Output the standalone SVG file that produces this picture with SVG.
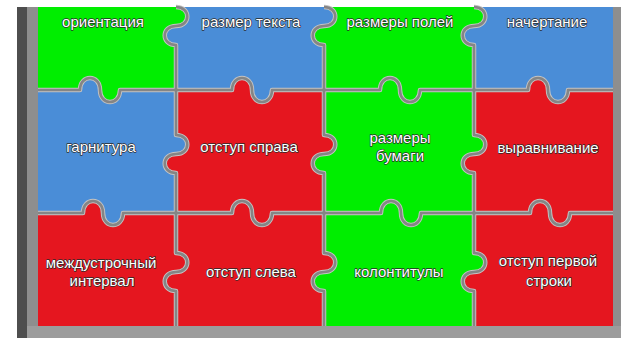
<svg xmlns="http://www.w3.org/2000/svg" xmlns:xlink="http://www.w3.org/1999/xlink" width="627" height="341" viewBox="0 0 627 341">
<style>
.green{fill:#00ee00}
.blue{fill:#4a8dd7}
.red{fill:#e5161f}
.lbl{font-family:"Liberation Sans",Arial,sans-serif;font-size:15px;fill:#ffffff;stroke:#2a2a2a;stroke-width:1.3px;paint-order:stroke;text-anchor:middle;stroke-linejoin:round}
.cutA{fill:none;stroke:#c4c4c4;stroke-width:4.5;stroke-linejoin:round}
.cutB{fill:none;stroke:#858585;stroke-width:2.6;stroke-linejoin:round}
</style>
<rect x="0" y="0" width="627" height="341" fill="#ffffff"/>
<g id="frame">
<rect x="17" y="7" width="604" height="331" fill="#8e8e8e"/>
<rect x="17" y="7" width="10" height="331" fill="#4e4e4e"/>
<rect x="27" y="326" width="594" height="12" fill="#9c9c9c"/>
</g>
<g id="piece-orientation" class="green">
<path id="p00" d="M38 7 H176 C191 7 191 26 176 26 C161 26 161 45 176 45 V90 H120 C120 106 100 106 100 90 C100 74 80 74 80 90 H38 Z"/>
<text class="lbl" x="103" y="27">ориентация</text>
</g>
<g id="piece-text-size" class="blue">
<path id="p01" d="M176 7 H324 C339 7 339 26 324 26 C309 26 309 45 324 45 V90 H272 C272 106 252 106 252 90 C252 74 232 74 232 90 H176 V45 C161 45 161 26 176 26 C191 26 191 7 176 7 Z"/>
<text class="lbl" x="251" y="27">размер текста</text>
</g>
<g id="piece-margins" class="green">
<path id="p02" d="M324 7 H474 C489 7 489 26 474 26 C459 26 459 45 474 45 V90 H420 C420 106 400 106 400 90 C400 74 380 74 380 90 H324 V45 C309 45 309 26 324 26 C339 26 339 7 324 7 Z"/>
<text class="lbl" x="400" y="27">размеры полей</text>
</g>
<g id="piece-style" class="blue">
<path id="p03" d="M474 7 H613 V90 H568 C568 106 548 106 548 90 C548 74 528 74 528 90 H474 V45 C459 45 459 26 474 26 C489 26 489 7 474 7 Z"/>
<text class="lbl" x="547" y="27">начертание</text>
</g>
<g id="piece-typeface" class="blue">
<path id="p10" d="M38 90 H80 C80 74 100 74 100 90 C100 106 120 106 120 90 H176 V135 C191 135 191 154 176 154 C161 154 161 173 176 173 V213 H123 C123 229 103 229 103 213 C103 197 83 197 83 213 H38 Z"/>
<text class="lbl" x="101" y="152">гарнитура</text>
</g>
<g id="piece-right-indent" class="red">
<path id="p11" d="M176 90 H232 C232 74 252 74 252 90 C252 106 272 106 272 90 H324 V135 C339 135 339 154 324 154 C309 154 309 173 324 173 V213 H272 C272 229 252 229 252 213 C252 197 232 197 232 213 H176 V173 C161 173 161 154 176 154 C191 154 191 135 176 135 Z"/>
<text class="lbl" x="249" y="152">отступ справа</text>
</g>
<g id="piece-paper-size" class="green">
<path id="p12" d="M324 90 H380 C380 74 400 74 400 90 C400 106 420 106 420 90 H474 V135 C489 135 489 154 474 154 C459 154 459 173 474 173 V213 H421 C421 229 401 229 401 213 C401 197 381 197 381 213 H324 V173 C309 173 309 154 324 154 C339 154 339 135 324 135 Z"/>
<text class="lbl" x="400" y="143">размеры</text>
<text class="lbl" x="400" y="161">бумаги</text>
</g>
<g id="piece-alignment" class="red">
<path id="p13" d="M474 90 H528 C528 74 548 74 548 90 C548 106 568 106 568 90 H613 V213 H570 C570 229 550 229 550 213 C550 197 530 197 530 213 H474 V173 C459 173 459 154 474 154 C489 154 489 135 474 135 Z"/>
<text class="lbl" x="548" y="153">выравнивание</text>
</g>
<g id="piece-line-spacing" class="red">
<path id="p20" d="M38 213 H83 C83 197 103 197 103 213 C103 229 123 229 123 213 H176 V253 C191 253 191 272 176 272 C161 272 161 291 176 291 V326 H38 Z"/>
<text class="lbl" x="101" y="268">междустрочный</text>
<text class="lbl" x="102" y="286">интервал</text>
</g>
<g id="piece-left-indent" class="red">
<path id="p21" d="M176 213 H232 C232 197 252 197 252 213 C252 229 272 229 272 213 H324 V253 C339 253 339 272 324 272 C309 272 309 291 324 291 V326 H176 V291 C161 291 161 272 176 272 C191 272 191 253 176 253 Z"/>
<text class="lbl" x="251" y="277">отступ слева</text>
</g>
<g id="piece-headers" class="green">
<path id="p22" d="M324 213 H381 C381 197 401 197 401 213 C401 229 421 229 421 213 H474 V253 C489 253 489 272 474 272 C459 272 459 291 474 291 V326 H324 V291 C309 291 309 272 324 272 C339 272 339 253 324 253 Z"/>
<text class="lbl" x="399" y="277">колонтитулы</text>
</g>
<g id="piece-first-line" class="red">
<path id="p23" d="M474 213 H530 C530 197 550 197 550 213 C550 229 570 229 570 213 H613 V326 H474 V291 C459 291 459 272 474 272 C489 272 489 253 474 253 Z"/>
<text class="lbl" x="548" y="266">отступ первой</text>
<text class="lbl" x="549" y="286">строки</text>
</g>
<g id="cuts">
<path class="cutA" d="M176 7 C191 7 191 26 176 26 C161 26 161 45 176 45 V135 C191 135 191 154 176 154 C161 154 161 173 176 173 V253 C191 253 191 272 176 272 C161 272 161 291 176 291 V326"/>
<path class="cutA" d="M324 7 C339 7 339 26 324 26 C309 26 309 45 324 45 V135 C339 135 339 154 324 154 C309 154 309 173 324 173 V253 C339 253 339 272 324 272 C309 272 309 291 324 291 V326"/>
<path class="cutA" d="M474 7 C489 7 489 26 474 26 C459 26 459 45 474 45 V135 C489 135 489 154 474 154 C459 154 459 173 474 173 V253 C489 253 489 272 474 272 C459 272 459 291 474 291 V326"/>
<path class="cutA" d="M38 90 H80 C80 74 100 74 100 90 C100 106 120 106 120 90 H232 C232 74 252 74 252 90 C252 106 272 106 272 90 H380 C380 74 400 74 400 90 C400 106 420 106 420 90 H528 C528 74 548 74 548 90 C548 106 568 106 568 90 H613"/>
<path class="cutA" d="M38 213 H83 C83 197 103 197 103 213 C103 229 123 229 123 213 H232 C232 197 252 197 252 213 C252 229 272 229 272 213 H381 C381 197 401 197 401 213 C401 229 421 229 421 213 H530 C530 197 550 197 550 213 C550 229 570 229 570 213 H613"/>
<path class="cutB" d="M176 7 C191 7 191 26 176 26 C161 26 161 45 176 45 V135 C191 135 191 154 176 154 C161 154 161 173 176 173 V253 C191 253 191 272 176 272 C161 272 161 291 176 291 V326"/>
<path class="cutB" d="M324 7 C339 7 339 26 324 26 C309 26 309 45 324 45 V135 C339 135 339 154 324 154 C309 154 309 173 324 173 V253 C339 253 339 272 324 272 C309 272 309 291 324 291 V326"/>
<path class="cutB" d="M474 7 C489 7 489 26 474 26 C459 26 459 45 474 45 V135 C489 135 489 154 474 154 C459 154 459 173 474 173 V253 C489 253 489 272 474 272 C459 272 459 291 474 291 V326"/>
<path class="cutB" d="M38 90 H80 C80 74 100 74 100 90 C100 106 120 106 120 90 H232 C232 74 252 74 252 90 C252 106 272 106 272 90 H380 C380 74 400 74 400 90 C400 106 420 106 420 90 H528 C528 74 548 74 548 90 C548 106 568 106 568 90 H613"/>
<path class="cutB" d="M38 213 H83 C83 197 103 197 103 213 C103 229 123 229 123 213 H232 C232 197 252 197 252 213 C252 229 272 229 272 213 H381 C381 197 401 197 401 213 C401 229 421 229 421 213 H530 C530 197 550 197 550 213 C550 229 570 229 570 213 H613"/>
</g>
</svg>
